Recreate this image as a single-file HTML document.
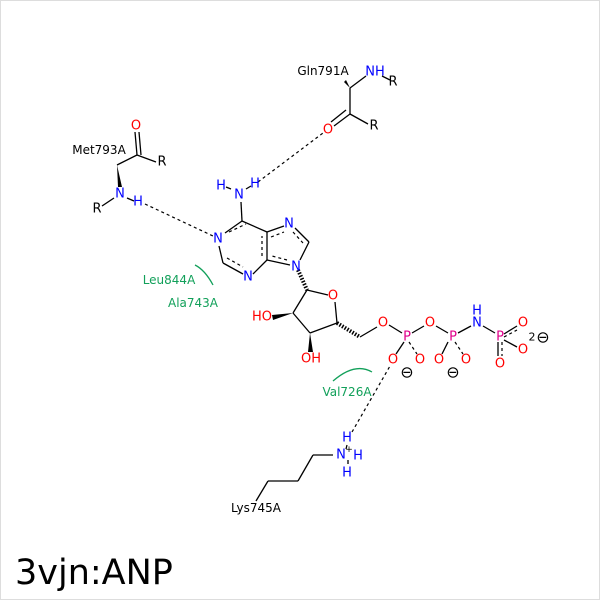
<!DOCTYPE html>
<html><head><meta charset="utf-8"><style>body{margin:0;background:#fff}svg{display:block}text{font-family:"DejaVu Sans","Liberation Sans",sans-serif}</style></head><body>
<svg width="600" height="600" viewBox="0 0 600 600">
<rect x="0.5" y="0.5" width="599" height="599" fill="#fff" stroke="#ddd"/>
<g stroke="#000" stroke-width="1.3" fill="none">
<line x1="350" y1="88" x2="366" y2="76"/>
<line x1="350" y1="88" x2="350" y2="114"/>
<line x1="350" y1="114" x2="334" y2="126"/>
<line x1="346" y1="110" x2="331" y2="122"/>
<line x1="350" y1="114" x2="368" y2="124"/>
<line x1="382" y1="76" x2="390" y2="80"/>
<line x1="117" y1="165" x2="137" y2="155"/>
<line x1="137" y1="155" x2="135" y2="132"/>
<line x1="141" y1="155" x2="139" y2="132"/>
<line x1="137" y1="155" x2="156" y2="162"/>
<line x1="114" y1="198" x2="102" y2="206"/>
<line x1="127" y1="198" x2="134" y2="201"/>
<line x1="241" y1="202" x2="242" y2="221"/>
<line x1="231" y1="189" x2="226" y2="187"/>
<line x1="246" y1="189" x2="251" y2="186"/>
<line x1="242" y1="221" x2="225" y2="233"/>
<line x1="242" y1="221" x2="267" y2="232"/>
<line x1="219" y1="246" x2="223" y2="263"/>
<line x1="223" y1="263" x2="243" y2="274"/>
<line x1="253" y1="274" x2="267" y2="260"/>
<line x1="267" y1="260" x2="267" y2="232"/>
<line x1="267" y1="232" x2="284" y2="226"/>
<line x1="295" y1="228" x2="309" y2="242"/>
<line x1="309" y1="242" x2="300" y2="260"/>
<line x1="290" y1="265" x2="267" y2="260"/>
<line x1="307" y1="290" x2="328" y2="295"/>
<line x1="335" y1="302" x2="337" y2="323"/>
<line x1="337" y1="323" x2="310" y2="333"/>
<line x1="310" y1="333" x2="293" y2="313"/>
<line x1="293" y1="313" x2="307" y2="290"/>
<line x1="360" y1="337" x2="377" y2="327"/>
<line x1="389" y1="325" x2="402" y2="333"/>
<line x1="412" y1="333" x2="424" y2="326"/>
<line x1="436" y1="326" x2="448" y2="333"/>
<line x1="458" y1="333" x2="471" y2="326"/>
<line x1="483" y1="326" x2="495" y2="333"/>
<line x1="504" y1="334" x2="517" y2="326"/>
<line x1="504" y1="340" x2="517" y2="347"/>
<line x1="498" y1="342" x2="498" y2="356"/>
<line x1="404" y1="342" x2="396" y2="354"/>
<line x1="448" y1="342" x2="442" y2="354"/>
<line x1="333" y1="455" x2="313" y2="455"/>
<line x1="313" y1="455" x2="298" y2="481"/>
<line x1="298" y1="481" x2="268" y2="481"/>
<line x1="268" y1="481" x2="256" y2="501"/>
<line x1="347" y1="445" x2="346" y2="449"/>
<line x1="348" y1="460" x2="348" y2="464"/>
</g>
<g stroke="#000" stroke-width="1.2" stroke-dasharray="3,3" fill="none">
<line x1="258" y1="182" x2="323" y2="133"/>
<line x1="145" y1="204" x2="213" y2="236"/>
<line x1="352" y1="432" x2="390" y2="366"/>
<line x1="229" y1="232" x2="246" y2="224"/>
<line x1="227" y1="258" x2="243" y2="267"/>
<line x1="262" y1="256" x2="262" y2="236"/>
<line x1="293" y1="232" x2="303" y2="243"/>
<line x1="271" y1="237" x2="284" y2="232"/>
<line x1="287" y1="260" x2="272" y2="256"/>
<line x1="409" y1="342" x2="417" y2="354"/>
<line x1="455" y1="342" x2="463" y2="354"/>
<line x1="504" y1="337" x2="517" y2="330"/>
<line x1="502" y1="342" x2="502" y2="356"/>
</g>
<polygon points="117,165 118,187 122,187" fill="#000"/>
<polygon points="350,88 344,82 346,80" fill="#000"/>
<polygon points="293,313 272,315 273,320" fill="#000"/>
<polygon points="310,333 308,352 313,352" fill="#000"/>
<g stroke="#000" stroke-width="1">
<line x1="298" y1="270" x2="307" y2="290" stroke-dasharray="1.5,1.5" stroke-width="4"/>
<line x1="337" y1="323" x2="360" y2="337" stroke-dasharray="1.5,1.5" stroke-width="4"/>
</g>
<g fill="none" stroke="#12a05a" stroke-width="1.3">
<path d="M195,265 Q205,270 213,285"/>
<path d="M333,381 Q355,362 372,372"/>
</g>
<g font-size="13" text-anchor="middle" dominant-baseline="central">
<text x="323" y="71" fill="#000" font-size="12">Gln791A</text>
<text x="375" y="72" fill="#0000ff">NH</text><text x="393" y="82">R</text>
<text x="328" y="130" fill="#ff0000">O</text><text x="374" y="126">R</text>
<text x="99" y="150" font-size="12">Met793A</text>
<text x="136" y="126" fill="#ff0000">O</text><text x="162" y="162">R</text>
<text x="120" y="194" fill="#0000ff">N</text><text x="138" y="202" fill="#0000ff">H</text><text x="97" y="209">R</text>
<text x="239" y="195" fill="#0000ff">N</text><text x="221" y="186" fill="#0000ff">H</text><text x="255" y="184" fill="#0000ff">H</text>
<text x="218" y="239" fill="#0000ff">N</text><text x="248" y="277" fill="#0000ff">N</text>
<text x="289" y="224" fill="#0000ff">N</text><text x="296" y="267" fill="#0000ff">N</text>
<text x="333" y="296" fill="#ff0000">O</text>
<text x="262" y="317" fill="#ff0000">HO</text><text x="311" y="359" fill="#ff0000">OH</text>
<text x="383" y="323" fill="#ff0000">O</text>
<text x="407" y="337" fill="#e0008a">P</text>
<text x="430" y="323" fill="#ff0000">O</text>
<text x="453" y="337" fill="#e0008a">P</text>
<text x="477" y="323" fill="#0000ff">N</text><text x="477" y="311" fill="#0000ff">H</text>
<text x="500" y="337" fill="#e0008a">P</text>
<text x="393" y="360" fill="#ff0000">O</text><text x="420" y="360" fill="#ff0000">O</text>
<text x="439" y="360" fill="#ff0000">O</text><text x="466" y="360" fill="#ff0000">O</text>
<text x="523" y="323" fill="#ff0000">O</text><text x="523" y="350" fill="#ff0000">O</text><text x="500" y="364" fill="#ff0000">O</text>
<text x="532" y="337" font-size="11">2</text><text x="543" y="337" font-size="16">⊖</text>
<text x="407" y="372" font-size="16">⊖</text><text x="453" y="372" font-size="16">⊖</text>
<text x="341" y="455" fill="#0000ff">N</text><text x="349" y="450" fill="#000" font-size="9">+</text>
<text x="347" y="438" fill="#0000ff">H</text><text x="358" y="456" fill="#0000ff">H</text><text x="347" y="473" fill="#0000ff">H</text>
<text x="256" y="508" font-size="12">Lys745A</text>
<text x="169" y="280" font-size="12" fill="#12a05a">Leu844A</text>
<text x="193" y="303" font-size="12" fill="#12a05a">Ala743A</text>
<text x="347" y="392" font-size="12" fill="#12a05a">Val726A</text>
</g>
<text x="15" y="584" font-size="35" fill="#000">3vjn:ANP</text>
</svg>
</body></html>
